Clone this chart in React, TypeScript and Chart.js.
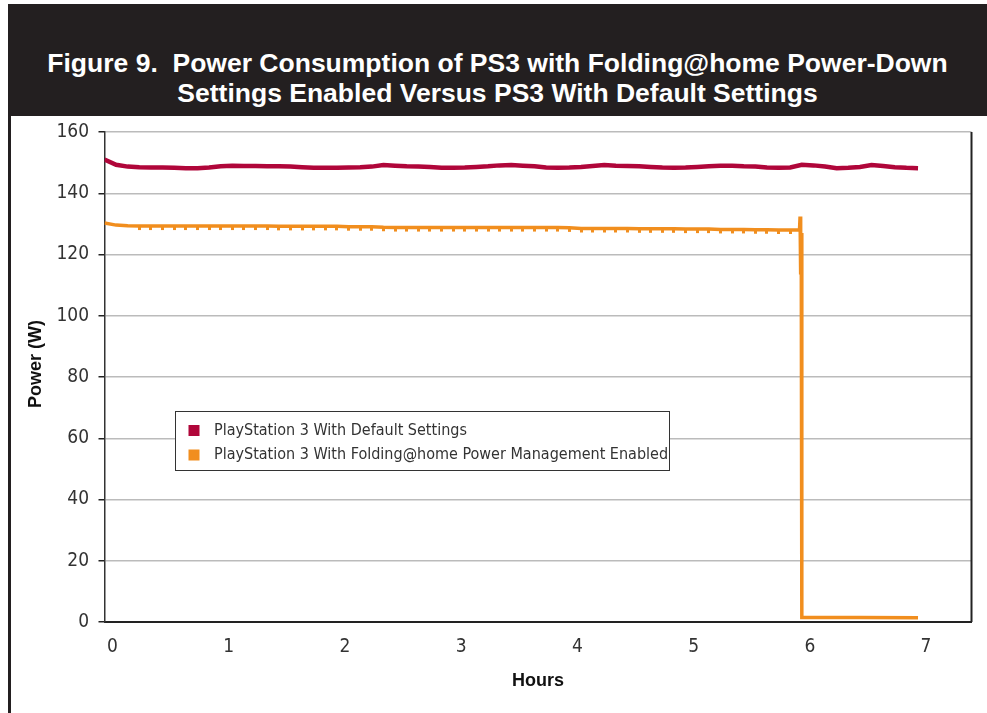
import React, { useEffect, useRef } from "react";
import { Chart, registerables } from "chart.js";

Chart.register(...registerables);

const seriesLabels = [
  "PlayStation 3 With Default Settings",
  "PlayStation 3 With Folding@home Power Management Enabled",
];

const hoursDefault = [
  0.0, 0.1, 0.2, 0.3, 0.4, 0.5, 0.6, 0.7, 0.8, 0.9,
  1.0, 1.1, 1.2, 1.3, 1.4, 1.5, 1.6, 1.7, 1.8, 1.9,
  2.0, 2.1, 2.2, 2.3, 2.4, 2.5, 2.6, 2.7, 2.8, 2.9,
  3.0, 3.1, 3.2, 3.3, 3.4, 3.5, 3.6, 3.7, 3.8, 3.9,
  4.0, 4.1, 4.2, 4.3, 4.4, 4.5, 4.6, 4.7, 4.8, 4.9,
  5.0, 5.1, 5.2, 5.3, 5.4, 5.5, 5.6, 5.7, 5.8, 5.9,
  6.0, 6.1, 6.2, 6.3, 6.4, 6.5, 6.6, 6.7, 6.8, 6.9,
  7.0,
];

const powerDefault = [
  151.0, 149.3, 148.7, 148.5, 148.4, 148.4, 148.3, 148.2, 148.2, 148.4,
  148.8, 149.0, 148.9, 148.9, 148.8, 148.8, 148.7, 148.5, 148.3, 148.3,
  148.3, 148.4, 148.5, 148.7, 149.2, 149.0, 148.8, 148.7, 148.6, 148.3,
  148.3, 148.4, 148.6, 148.8, 149.1, 149.2, 149.0, 148.8, 148.4, 148.3,
  148.4, 148.6, 148.9, 149.2, 149.0, 148.9, 148.8, 148.6, 148.4, 148.3,
  148.4, 148.6, 148.8, 149.0, 149.0, 148.8, 148.7, 148.4, 148.3, 148.4,
  149.3, 149.1, 148.7, 148.2, 148.3, 148.6, 149.2, 148.9, 148.5, 148.3,
  148.2,
];

const hoursFolding = [
  0.0, 0.1, 0.2, 0.3, 0.4, 0.5, 0.6, 0.7, 0.8, 0.9,
  1.0, 1.1, 1.2, 1.3, 1.4, 1.5, 1.6, 1.7, 1.8, 1.9,
  2.0, 2.1, 2.2, 2.3, 2.4, 2.5, 2.6, 2.7, 2.8, 2.9,
  3.0, 3.1, 3.2, 3.3, 3.4, 3.5, 3.6, 3.7, 3.8, 3.9,
  4.0, 4.1, 4.2, 4.3, 4.4, 4.5, 4.6, 4.7, 4.8, 4.9,
  5.0, 5.1, 5.2, 5.3, 5.4, 5.5, 5.6, 5.7, 5.8, 5.9,
  5.98, 5.985, 5.99, 5.995, 6.0, 6.5, 7.0,
];

const powerFolding = [
  130.3, 129.6, 129.4, 129.3, 129.3, 129.3, 129.3, 129.3, 129.3, 129.3,
  129.3, 129.3, 129.3, 129.3, 129.3, 129.2, 129.2, 129.2, 129.2, 129.2,
  129.2, 129.1, 129.1, 129.1, 128.9, 128.8, 128.8, 128.8, 128.8, 128.8,
  128.8, 128.8, 128.8, 128.8, 128.8, 128.8, 128.8, 128.8, 128.8, 128.8,
  128.7, 128.5, 128.5, 128.5, 128.5, 128.5, 128.4, 128.4, 128.4, 128.4,
  128.3, 128.3, 128.3, 128.2, 128.2, 128.2, 128.1, 128.1, 128.0, 128.0,
  128.0, 132.4, 113.5, 127.0, 1.5, 1.5, 1.4,
];

const xTickValues = [0, 1, 2, 3, 4, 5, 6, 7];
const yTickStep = 20;
const yAxisTitle = "Power (W)";
const xAxisTitle = "Hours";

const COLOR_DEFAULT = "#b0063a";
const COLOR_FOLDING = "#f18e1e";
const NARROW =
  '"Liberation Sans Narrow", "Arial Narrow", "DejaVu Sans Condensed", "Liberation Sans", sans-serif';
const BOLD_FONT = '"Liberation Sans", Arial, sans-serif';

function makeDip(): HTMLCanvasElement {
  const c = document.createElement("canvas");
  c.width = 3;
  c.height = 12;
  const g = c.getContext("2d")!;
  g.fillStyle = COLOR_FOLDING;
  g.fillRect(0, 6, 3, 4);
  return c;
}

const framePlugin = {
  id: "frame",
  afterDraw(chart: any) {
    const { ctx, chartArea } = chart;
    ctx.save();
    // right border of plot
    ctx.strokeStyle = "#222";
    ctx.lineWidth = 2;
    ctx.beginPath();
    ctx.moveTo(chartArea.right, chartArea.top);
    ctx.lineTo(chartArea.right, chartArea.bottom);
    ctx.stroke();

    // y axis title
    ctx.save();
    ctx.translate(36, 364);
    ctx.rotate(-Math.PI / 2);
    ctx.fillStyle = "#111";
    ctx.font = `bold 18px ${BOLD_FONT}`;
    ctx.textAlign = "center";
    ctx.textBaseline = "middle";
    ctx.fillText(yAxisTitle, 0, 0);
    ctx.restore();

    // legend box
    const bx = 175.5, by = 411.5, bw = 494, bh = 59;
    ctx.fillStyle = "#fff";
    ctx.fillRect(bx, by, bw, bh);
    ctx.strokeStyle = "#333";
    ctx.lineWidth = 1;
    ctx.strokeRect(bx, by, bw, bh);
    const rows = [430.5, 455];
    chart.data.datasets.forEach((ds: any, i: number) => {
      ctx.fillStyle = ds.borderColor;
      ctx.fillRect(188.5, rows[i] - 5.5, 11, 11);
      ctx.fillStyle = "#333";
      ctx.font = `16px ${NARROW}`;
      ctx.textBaseline = "middle";
      ctx.textAlign = "left";
      ctx.fillText(ds.label, 214, rows[i]);
    });
    ctx.restore();
  },
};

export default function App() {
  const ref = useRef<HTMLCanvasElement>(null);

  useEffect(() => {
    const dip = makeDip();
    const chart = new Chart(ref.current!, {
      type: "line",
      data: {
        datasets: [
          {
            label: seriesLabels[0],
            data: hoursDefault.map((h, i) => ({ x: h, y: powerDefault[i] })),
            borderColor: COLOR_DEFAULT,
            backgroundColor: COLOR_DEFAULT,
            borderWidth: 4.5,
            pointRadius: 0,
            tension: 0,
          },
          {
            label: seriesLabels[1],
            data: hoursFolding.map((h, i) => ({ x: h, y: powerFolding[i] })),
            borderColor: COLOR_FOLDING,
            backgroundColor: COLOR_FOLDING,
            borderWidth: 3.5,
            pointStyle: dip as any,
            pointRadius: (c: any) => (c.raw && c.raw.x > 0.25 && c.raw.x < 5.95 ? 1 : 0),
            tension: 0,
          },
        ],
      },
      options: {
        animation: false,
        responsive: false,
        maintainAspectRatio: false,
        layout: { padding: { left: 11, top: 132, right: 15.5, bottom: 0 } },
        plugins: {
          legend: { display: false },
          tooltip: { enabled: false },
          title: { display: false },
        },
        scales: {
          x: {
            type: "linear",
            min: 0,
            max: 7.46,
            afterBuildTicks: (s: any) => {
              s.ticks = xTickValues.map((v) => ({ value: v }));
            },
            afterFit: (s: any) => {
              s.height = 91;
            },
            grid: { display: false, drawTicks: false },
            border: { display: true, color: "#222", width: 2 },
            ticks: {
              padding: 14,
              labelOffset: 8,
              color: "#333",
              font: { family: NARROW, size: 19 },
            },
            title: {
              display: true,
              text: xAxisTitle,
              color: "#111",
              font: { family: BOLD_FONT, size: 18, weight: "bold" },
              padding: { top: 0, bottom: 21 },
            },
          },
          y: {
            type: "linear",
            min: 0,
            max: 160,
            afterFit: (s: any) => {
              s.width = 93.5;
            },
            ticks: {
              stepSize: yTickStep,
              padding: 9.5,
              color: "#333",
              font: { family: NARROW, size: 19 },
            },
            grid: {
              color: "#bbbbbb",
              lineWidth: 1.5,
              tickLength: 6,
              tickColor: "#222",
              tickWidth: 1.5,
            },
            border: { display: true, color: "#333", width: 1.5 },
            title: { display: false },
          },
        },
      },
      plugins: [framePlugin],
    });
    return () => chart.destroy();
  }, []);

  return (
    <div style={{ position: "absolute", left: 0, top: 0, width: 987, height: 713, background: "#fff" }}>
      <canvas ref={ref} width={987} height={713} style={{ position: "absolute", left: 0, top: 0 }} />
      <div
        style={{
          position: "absolute",
          left: 8,
          top: 4,
          width: 979,
          height: 112,
          background: "#231f20",
          color: "#fff",
          fontFamily: '"Liberation Sans Narrow", "Arial Narrow", "Liberation Sans", sans-serif',
          fontWeight: "bold",
          fontSize: 26.5,
          lineHeight: "30px",
          textAlign: "center",
          boxSizing: "border-box",
          paddingTop: 44,
          whiteSpace: "nowrap",
        }}
      >
        <div>Figure 9.&nbsp; Power Consumption of PS3 with Folding@home Power-Down</div>
        <div>Settings Enabled Versus PS3 With Default Settings</div>
      </div>
      <div style={{ position: "absolute", left: 8, top: 116, width: 3, height: 597, background: "#231f20" }} />
    </div>
  );
}
